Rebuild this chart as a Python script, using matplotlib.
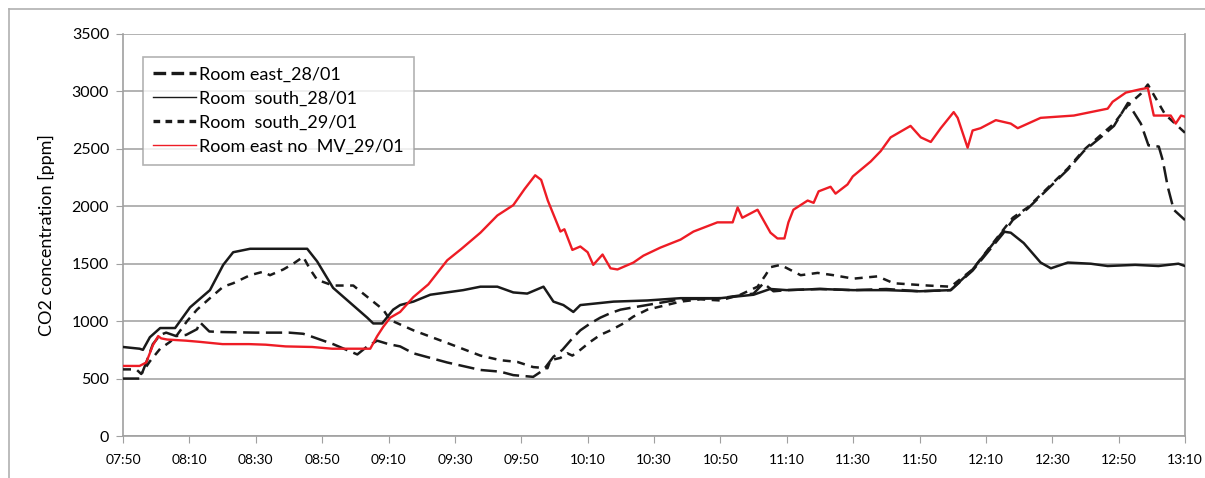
import matplotlib
matplotlib.use("Agg")
import matplotlib.pyplot as plt
from matplotlib.lines import Line2D
import numpy as np

plt.rcParams['font.family'] = ['Lato', 'DejaVu Sans']

# time in minutes after 07:50
tick_labels = ["07:50", "08:10", "08:30", "08:50", "09:10", "09:30", "09:50", "10:10",
               "10:30", "10:50", "11:10", "11:30", "11:50", "12:10", "12:30", "12:50", "13:10"]

east28_t = [0, 5.1, 7, 9, 11.2, 13, 16, 19, 22.3, 23.2, 26, 30, 40, 50, 54.3, 56.4, 63.3,
            70.6, 73.6, 76.6, 80, 83.5, 87.5, 97.7, 107.7, 113.7, 117.6, 123.6, 126.7, 129.7,
            132.4, 135.4, 137.8, 140.8, 143.8, 146.9, 149.9, 153.8, 161.9, 168, 180, 190, 193,
            196, 200, 210, 220, 230, 240, 249.4, 256, 265.1, 268.1, 272.6, 276.5, 284.7, 289.5,
            294.6, 298.6, 302.8, 306.7, 309, 312.1, 313.3, 314.8, 316.6, 320]
east28_v = [500, 500, 640, 800, 880, 900, 870, 880, 930, 990, 910, 905, 900, 900, 890, 870, 800,
            710, 780, 830, 800, 780, 720, 640, 575, 560, 530, 515, 575, 690,
            750, 850, 920, 980, 1030, 1070, 1100, 1120, 1160, 1190, 1200, 1240, 1330,
            1260, 1270, 1280, 1270, 1280, 1260, 1270, 1440, 1760, 1880, 1980, 2090, 2320, 2480,
            2600, 2700, 2900, 2720, 2530, 2520, 2400, 2170, 1970, 1880]

south28_t = [0, 5, 6, 8.1, 11.2, 15.7, 20.2, 26.2, 30.2, 33.2, 38.3, 50, 55.5, 58.5, 63.3,
             73.6, 75.4, 78.1, 81.4, 83.5, 87.5, 92.6, 102.5, 107.7, 112.8, 117.6, 121.8,
             126.7, 129.7, 132.7, 135.7, 137.8, 147.8, 158, 168, 180, 190, 195, 200, 210, 220,
             230, 240, 249.4, 256, 265.1, 267.5, 271.4, 276.5, 279.6, 284.7, 291.6, 296.7, 305,
             312, 318, 320]
south28_v = [775, 760, 750, 860, 940, 940, 1120, 1270, 1490, 1600, 1630, 1630, 1630, 1520, 1290,
             1030, 980, 980, 1100, 1140, 1170, 1230, 1270, 1300, 1300, 1250, 1240,
             1300, 1170, 1140, 1080, 1140, 1170, 1180, 1200, 1200, 1230, 1280, 1270, 1280, 1270,
             1270, 1260, 1270, 1450, 1780, 1770, 1680, 1510, 1460, 1510, 1500, 1480, 1490,
             1480, 1500, 1480]

south29_t = [0, 4, 5.5, 8.1, 11.2, 14.2, 16.3, 19.3, 22.3, 26.2, 30.2, 33.2, 38.3, 42.2, 44.3,
             48.3, 51.3, 54.3, 56.4, 58.5, 63.3, 69.4, 71.5, 78.4, 80.5, 87.5, 97.7, 107.7,
             113.7, 118.8, 123.6, 127.9, 128.8, 131.8, 133.9, 135.4, 137.8, 140.8, 143.8, 146.9,
             150.8, 153.8, 158, 168, 174, 180, 186, 191.2, 193.6, 195.1, 198.1, 204.2, 209.3,
             214.1, 220.1, 227.4, 232.2, 242.5, 249.4, 256, 265.1, 268.1, 272.6, 276.5, 284.7,
             289.5, 294.6, 298.6, 302.8, 306.7, 308.8, 311, 314, 317, 320]
south29_v = [580, 580, 540, 650, 760, 820, 880, 1000, 1100, 1200, 1300, 1330, 1400, 1430, 1400,
             1450, 1500, 1560, 1450, 1360, 1310, 1310, 1260, 1100, 1010, 920, 810, 700,
             660, 645, 600, 590, 660, 680, 720, 700, 750, 820, 880, 920,
             980, 1040, 1100, 1170, 1190, 1180, 1230, 1300, 1400, 1470, 1490, 1400, 1420,
             1400, 1370, 1390, 1330, 1310, 1300, 1450, 1790, 1900, 1990, 2100, 2330,
             2490, 2620, 2720, 2880, 2980, 3060, 2950, 2800, 2720, 2640]

eastnomv_t = [0, 5, 7, 9, 10.6, 11.5, 13.3, 19, 23, 30, 38, 43, 49, 57, 63, 70, 74.5, 76.6,
              78.4, 80.5, 83.5, 87.5, 92, 97.7, 102, 107.7, 112.8, 117.6, 121, 124.2, 126, 128,
              131.8, 133, 135.4, 137.8, 140, 141.7, 144.5, 146.9, 149, 153.8, 156.8, 161.9, 168,
              171.9, 179.1, 183.7, 185.2, 186.6, 191.2, 195.1, 197.2, 199.3, 200.5, 202, 206.3,
              208.1, 209.6, 213.2, 214.7, 218.3, 219.9, 225.3, 228.3, 231.3, 234.3, 237.3,
              240.4, 243.4, 246.4, 250.3, 251.5, 254.5, 256, 258.4, 263, 267.5, 269.6, 276.5,
              286.5, 296.7, 298.2, 302.2, 306.7, 308.8, 310.6, 315.7, 317.2, 318.8, 320]
eastnomv_v = [610, 610, 640, 790, 870, 850, 840, 830, 820, 800, 800, 795, 780, 775, 760, 760,
              760, 870, 950, 1030, 1080, 1210, 1320, 1530, 1630, 1770, 1920, 2010, 2150, 2270,
              2230, 2050, 1780, 1800, 1620, 1650, 1600, 1490, 1580, 1460, 1450, 1510, 1570,
              1640, 1710, 1780, 1860, 1860, 1990, 1900, 1970, 1770, 1720, 1720, 1860, 1970,
              2050, 2030, 2130, 2170, 2110, 2190, 2260, 2390, 2480, 2600, 2650, 2700, 2600,
              2560, 2680, 2820, 2770, 2510, 2660, 2680, 2750, 2720, 2680, 2770, 2790, 2850,
              2910, 2990, 3020, 3030, 2790, 2790, 2720, 2790, 2780]

labels = ["Room east_28/01", "Room  south_28/01", "Room  south_29/01", "Room east no  MV_29/01"]

W, H = 1205, 478
fig = plt.figure(figsize=(W / 100, H / 100), dpi=100)
ax = fig.add_axes([123 / W, (H - 436) / H, (1185 - 123) / W, (436 - 34) / H])

lw = 1.8
black = "#1a1a1a"
ax.plot(south29_t, south29_v, color=black, lw=lw, dashes=(3.2, 2.6), zorder=3)
ax.plot(east28_t, east28_v, color=black, lw=lw, dashes=(6.5, 2.6), zorder=3)
ax.plot(south28_t, south28_v, color=black, lw=lw, zorder=4)
ax.plot(eastnomv_t, eastnomv_v, color="#ee1c25", lw=1.7, zorder=5)

ax.set_xlim(0, 320)
ax.set_ylim(0, 3500)
ax.set_xticks(np.arange(0, 321, 20))
ax.set_xticklabels(tick_labels, fontsize=10)
ax.set_yticks(np.arange(0, 3501, 500))
ax.tick_params(axis='y', labelsize=11.5, length=5, color="#a0a0a0", pad=5)
ax.tick_params(axis='x', length=5, color="#a0a0a0", pad=8)
ax.grid(axis='y', color="#a6a6a6", lw=1.2)
ax.set_axisbelow(True)
for s in ['left', 'bottom', 'right']:
    ax.spines[s].set_color("#a0a0a0")
    ax.spines[s].set_linewidth(1.2)
ax.spines['top'].set_visible(False)
ax.set_ylabel("CO2 concentration [ppm]", fontsize=13, labelpad=12)

handles = [Line2D([], [], color=black, lw=2.4, dashes=(3.8, 1.6)),
           Line2D([], [], color=black, lw=1.0),
           Line2D([], [], color=black, lw=2.4, dashes=(2.0, 1.6)),
           Line2D([], [], color="#ee1c25", lw=1.0)]
leg = ax.legend(handles, labels, loc='upper left', bbox_to_anchor=(0.019, 0.944),
                fontsize=13, frameon=True, fancybox=False, edgecolor="#a0a0a0",
                handlelength=2.4, handletextpad=0.15, labelspacing=0.45,
                borderpad=0.55, borderaxespad=0)
leg.get_frame().set_linewidth(1.2)

# outer chart-area border (top and left visible)
fig.add_artist(Line2D([9 / W, 1], [1 - 9 / H, 1 - 9 / H], transform=fig.transFigure,
                      color="#b0b0b0", lw=1.2))
fig.add_artist(Line2D([9 / W, 9 / W], [0, 1 - 9 / H], transform=fig.transFigure,
                      color="#b0b0b0", lw=1.2))

fig.savefig("out.png", dpi=100)
